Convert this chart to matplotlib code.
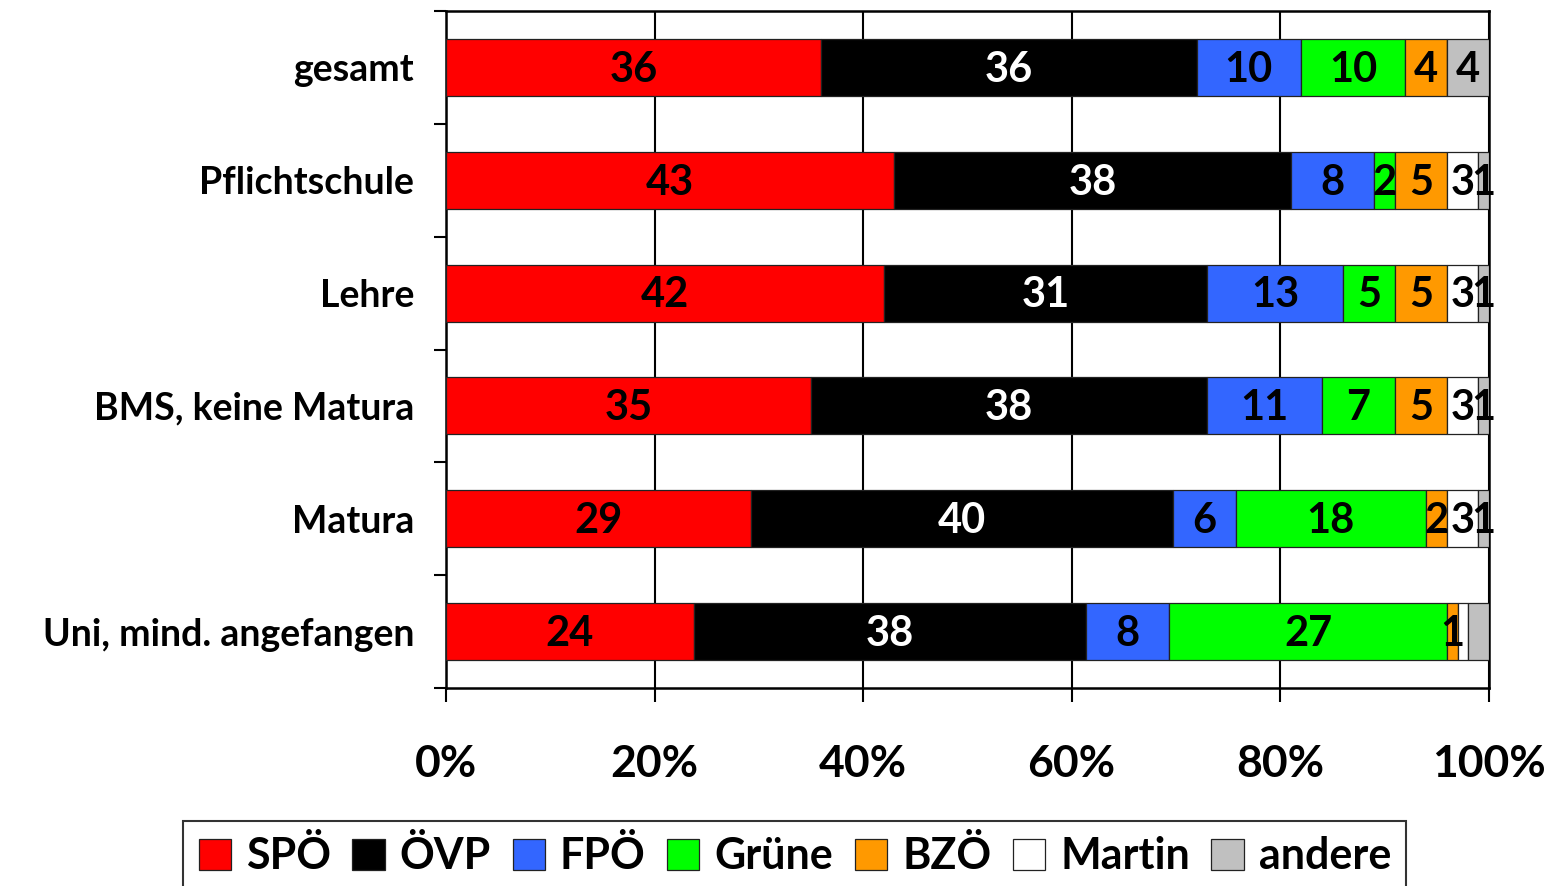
import matplotlib.pyplot as plt
import numpy as np

plt.rcParams['font.family'] = ['Lato', 'DejaVu Sans']
plt.rcParams['font.weight'] = 'bold'

categories = ['gesamt', 'Pflichtschule', 'Lehre', 'BMS, keine Matura', 'Matura', 'Uni, mind. angefangen']
parties = ['SPÖ', 'ÖVP', 'FPÖ', 'Grüne', 'BZÖ', 'Martin', 'andere']
colors = ['#FF0000', '#000000', '#3366FF', '#00FF00', '#FF9900', '#FFFFFF', '#C0C0C0']
text_colors = ['black', 'white', 'black', 'black', 'black', 'black', 'black']

spoe   = [36, 43, 42, 35, 29, 24]
oevp   = [36, 38, 31, 38, 40, 38]
fpoe   = [10, 8, 13, 11, 6, 8]
gruene = [10, 2, 5, 7, 18, 27]
bzoe   = [4, 5, 5, 5, 2, 1]
martin = [0, 3, 3, 3, 3, 1]
andere = [4, 1, 1, 1, 1, 2]
# which segments carry a number in the original
show_label = [
    [1, 1, 1, 1, 1, 0, 1],
    [1, 1, 1, 1, 1, 1, 1],
    [1, 1, 1, 1, 1, 1, 1],
    [1, 1, 1, 1, 1, 1, 1],
    [1, 1, 1, 1, 1, 1, 1],
    [1, 1, 1, 1, 1, 0, 0],
]

values = np.array([spoe, oevp, fpoe, gruene, bzoe, martin, andere], dtype=float)
totals = values.sum(axis=0)
shares = values / totals * 100

fig = plt.figure(figsize=(15.54, 8.86), dpi=100)
ax = fig.add_axes([0.287, 0.2235, 0.671, 0.764])

y = np.arange(len(categories))
left = np.zeros(len(categories))
for i, party in enumerate(parties):
    ax.barh(y, shares[i], left=left, height=0.505, color=colors[i],
            edgecolor='#222222', linewidth=0.9, label=party, zorder=3)
    for j in range(len(categories)):
        if show_label[j][i] and values[i, j] > 0:
            ax.text(left[j] + shares[i, j] / 2, y[j] + 0.02, str(int(values[i, j])),
                    ha='center', va='center', fontsize=30, fontweight='bold',
                    color=text_colors[i], zorder=4)
    left += shares[i]

ax.set_xlim(0, 100)
ax.set_ylim(len(categories) - 0.5, -0.5)
ax.set_xticks([0, 20, 40, 60, 80, 100])
ax.set_xticklabels(['0%', '20%', '40%', '60%', '80%', '100%'], fontsize=32, fontweight='bold')
ax.tick_params(axis='x', direction='out', length=10, width=1.5, pad=30)
ax.set_yticks(np.arange(-0.5, len(categories), 1))
ax.set_yticklabels([])
ax.tick_params(axis='y', which='major', direction='out', length=9, width=1.5)
ax.set_yticks(y, minor=True)
ax.set_yticklabels(categories, minor=True, fontsize=27, fontweight='bold')
ax.tick_params(axis='y', which='minor', length=0, pad=23)
ax.grid(True, axis='x', color='black', linewidth=1.5, zorder=0)
for s in ax.spines.values():
    s.set_linewidth(1.8)

leg = fig.legend(loc='upper center', bbox_to_anchor=(0.5115, 0.073), ncol=7,
                 fontsize=31, frameon=True, fancybox=False, edgecolor='black',
                 handlelength=0.75, handleheight=0.75, handletextpad=0.35,
                 columnspacing=0.5, borderpad=0.35, borderaxespad=0)
leg.get_frame().set_linewidth(1.5)
for t in leg.get_texts():
    t.set_fontweight('bold')

plt.savefig('out.png', dpi=100)
